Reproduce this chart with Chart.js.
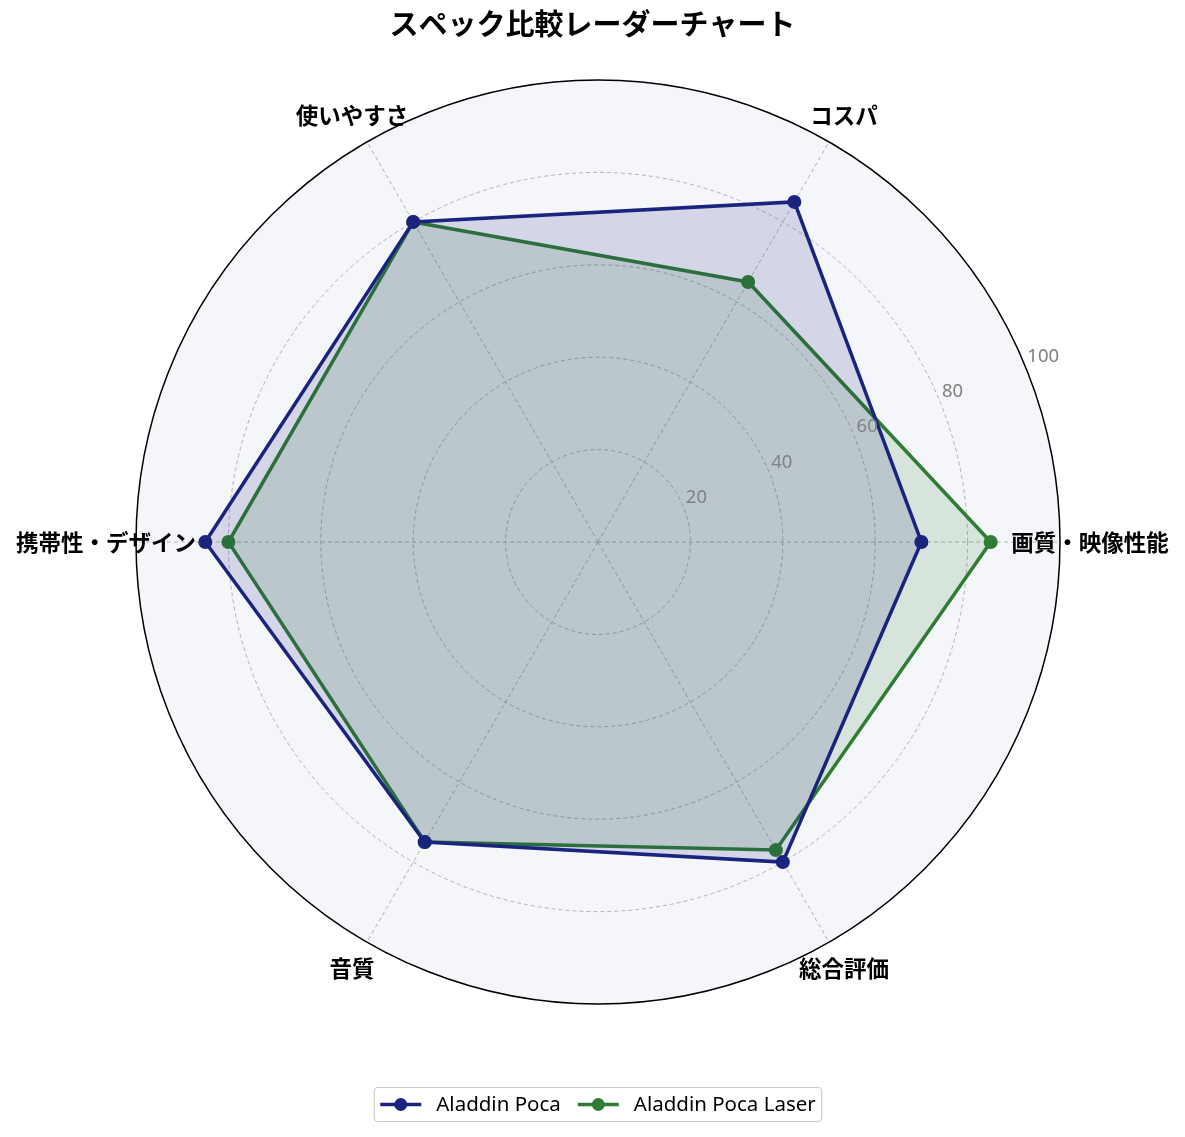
<!DOCTYPE html>
<html>
<head>
<meta charset="utf-8">
<script src="https://cdn.jsdelivr.net/npm/chart.js@4"></script>
<style>
html,body{margin:0;padding:0;background:#fff;}
#wrap{position:relative;width:1185px;height:1137px;}
</style>
</head>
<body>
<div id="wrap"><canvas id="c"></canvas></div>
<script>
const titleText = 'スペック比較レーダーチャート';
const categories = ['画質・映像性能', 'コスパ', '使いやすさ', '携帯性・デザイン', '音質', '総合評価'];
const seriesNames = ['Aladdin Poca', 'Aladdin Poca Laser'];
const pocaValues = [70, 85, 80, 85, 75, 80];
const laserValues = [85, 65, 80, 80, 75, 77];
const tickValues = [20, 40, 60, 80, 100];
const seriesColors = ['#1a237e', '#2e7d32'];
const seriesFills = ['rgba(26,35,126,0.15)', 'rgba(46,125,50,0.15)'];

// matplotlib goes counter-clockwise from the right; Chart.js goes clockwise.
const order = [0, 5, 4, 3, 2, 1];
const labels = order.map(i => categories[i]);
const reorder = arr => order.map(i => arr[i]);

const LATIN = "'Noto Sans', 'Noto Sans CJK JP', sans-serif";
const CJK = "'Noto Sans CJK JP', 'Noto Sans', sans-serif";

const decorPlugin = {
  id: 'decor',
  beforeDraw(chart) {
    const s = chart.scales.r;
    const ctx = chart.ctx;
    ctx.save();
    ctx.fillStyle = '#f5f6fa';
    ctx.beginPath();
    ctx.arc(s.xCenter, s.yCenter, s.drawingArea, 0, Math.PI * 2);
    ctx.fill();
    ctx.restore();
  },
  afterDraw(chart) {
    const s = chart.scales.r;
    const ctx = chart.ctx;
    ctx.save();
    // title
    ctx.fillStyle = '#000';
    ctx.font = "bold 29px " + CJK;
    ctx.textAlign = 'center';
    ctx.textBaseline = 'middle';
    ctx.fillText(titleText, chart.width / 2, 24);
    // point labels
    ctx.font = "bold 22.5px " + CJK;
    labels.forEach((lab, i) => {
      const p = s.getPointPosition(i, s.drawingArea + 30);
      ctx.fillText(lab, p.x, p.y);
    });
    // tick labels at 22.5 degrees
    ctx.font = "18.5px " + LATIN;
    ctx.fillStyle = '#808080';
    ctx.textAlign = 'left';
    ctx.textBaseline = 'alphabetic';
    const a = 22.5 * Math.PI / 180;
    tickValues.forEach(v => {
      const d = s.getDistanceFromCenterForValue(v);
      ctx.fillText(String(v), s.xCenter + d * Math.cos(a) + 2.5, s.yCenter - d * Math.sin(a) - 3.5);
    });
    // legend
    ctx.font = "20.5px " + LATIN;
    const w = seriesNames.map(n => ctx.measureText(n).width);
    const padX = 6, handle = 41, gapT = 15, gapE = 17;
    const total = padX * 2 + handle * 2 + gapT * 2 + gapE + w[0] + w[1];
    const bx = s.xCenter - total / 2;
    const by = 1087.5, bh = 34;
    ctx.fillStyle = 'rgba(255,255,255,0.8)';
    ctx.strokeStyle = '#cccccc';
    ctx.lineWidth = 1.2;
    ctx.beginPath();
    ctx.roundRect(bx, by, total, bh, 4);
    ctx.fill();
    ctx.stroke();
    let x = bx + padX;
    const cy = by + bh / 2;
    seriesNames.forEach((n, i) => {
      ctx.strokeStyle = seriesColors[i];
      ctx.lineWidth = 3.5;
      ctx.beginPath();
      ctx.moveTo(x, cy);
      ctx.lineTo(x + handle, cy);
      ctx.stroke();
      ctx.fillStyle = seriesColors[i];
      ctx.beginPath();
      ctx.arc(x + handle / 2, cy, 6.5, 0, Math.PI * 2);
      ctx.fill();
      x += handle + gapT;
      ctx.fillStyle = '#000';
      ctx.textAlign = 'left';
      ctx.textBaseline = 'middle';
      ctx.fillText(n, x, cy + 1);
      x += w[i] + gapE;
    });
    ctx.restore();
  }
};

const makeSet = (name, vals, i) => ({
  label: name,
  data: reorder(vals),
  borderColor: seriesColors[i],
  backgroundColor: seriesFills[i],
  fill: true,
  borderWidth: 3.5,
  pointRadius: 7,
  pointHoverRadius: 7,
  pointBackgroundColor: seriesColors[i],
  pointBorderColor: seriesColors[i],
  pointBorderWidth: 0,
  tension: 0
});

new Chart(document.getElementById('c'), {
  type: 'radar',
  data: {
    labels: labels,
    datasets: [makeSet(seriesNames[0], pocaValues, 0), makeSet(seriesNames[1], laserValues, 1)]
  },
  options: {
    responsive: true,
    maintainAspectRatio: false,
    animation: false,
    events: [],
    layout: { padding: { left: 136, right: 125, top: 80, bottom: 133 } },
    plugins: { legend: { display: false }, title: { display: false }, tooltip: { enabled: false } },
    scales: {
      r: {
        min: 0,
        max: 100,
        startAngle: 90,
        ticks: { display: false, stepSize: 20 },
        pointLabels: { display: false },
        angleLines: { display: true, color: '#aaaaaa', lineWidth: 0.9, borderDash: [4, 3] },
        grid: {
          circular: true,
          color: c => (c.tick && c.tick.value === 100) ? '#000000' : '#aaaaaa',
          lineWidth: c => (c.tick && c.tick.value === 100) ? 1.5 : 0.9
        },
        border: {
          dash: c => (c.tick && c.tick.value === 100) ? [] : [4, 3]
        }
      }
    }
  },
  plugins: [decorPlugin]
});
</script>
</body>
</html>
